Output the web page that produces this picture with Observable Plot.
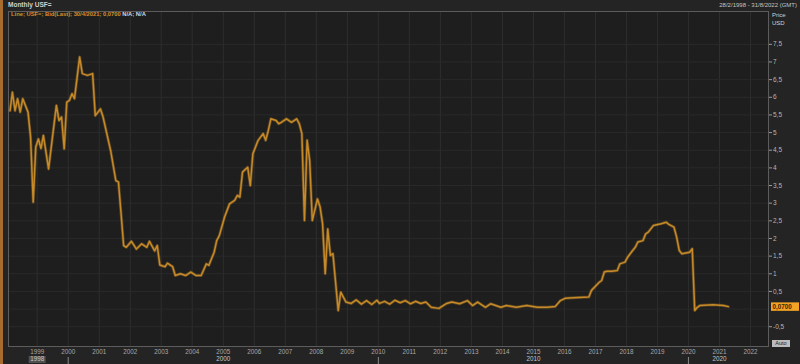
<!DOCTYPE html>
<html>
<head>
<meta charset="utf-8">
<script src="https://cdn.jsdelivr.net/npm/d3@7"></script>
<script src="https://cdn.jsdelivr.net/npm/@observablehq/plot@0.6"></script>
<style>
  html, body { margin: 0; padding: 0; background: #242424; }
  #wrap { position: relative; width: 800px; height: 364px; background: #242424; overflow: hidden; font-family: "Liberation Sans", Arial, sans-serif; }
  #chart { position: absolute; left: 0; top: 0; }
  .ov { position: absolute; white-space: nowrap; line-height: 1; }
</style>
</head>
<body>
<div id="wrap">
  <div id="chart"></div>
  <div class="ov" style="left:0;top:0;width:3px;height:364px;background:#a86c2e;"></div>
  <div class="ov" id="title" style="left:8px;top:1.5px;font-size:6.5px;font-weight:bold;color:#cfcfcf;"></div>
  <div class="ov" id="range" style="right:3px;top:1.5px;font-size:6px;color:#c4c4c4;"></div>
  <div class="ov" id="legend" style="left:11px;top:12px;font-size:5.8px;font-weight:bold;"></div>
  <div class="ov" id="unit" style="left:772px;top:12px;font-size:6px;color:#d0d0d0;line-height:1.25;"></div>
  <div class="ov" style="left:772px;top:340px;width:18px;height:7px;background:#bcbcbc;color:#222;font-size:5.5px;text-align:center;line-height:7px;">Auto</div>
</div>
<script>
// ---- data (monthly USF=, bid last) ----
const dates = [
  "1998-02","1998-03","1998-04","1998-05","1998-06","1998-07","1998-09","1998-10","1998-11","1998-12",
  "1999-01","1999-02","1999-03","1999-05","1999-08","1999-09","1999-10","1999-11","1999-12",
  "2000-01","2000-02","2000-03","2000-05","2000-06","2000-08","2000-10","2000-11",
  "2001-01","2001-02","2001-05","2001-07","2001-08","2001-09","2001-10","2001-11",
  "2002-01","2002-03","2002-05","2002-07","2002-08","2002-10","2002-11","2002-12",
  "2003-02","2003-03","2003-05","2003-06","2003-08","2003-10","2003-12",
  "2004-02","2004-04","2004-06","2004-07","2004-09","2004-10","2004-11",
  "2005-01","2005-03","2005-05","2005-06","2005-07","2005-08","2005-10","2005-11","2005-12",
  "2006-02","2006-04","2006-05","2006-06","2006-07","2006-09","2006-10","2006-11",
  "2007-01","2007-03","2007-05","2007-06","2007-07","2007-08","2007-09","2007-10","2007-11",
  "2008-01","2008-02","2008-03","2008-04","2008-05","2008-06","2008-07","2008-09","2008-10","2008-12",
  "2009-02","2009-04","2009-06","2009-08","2009-10","2009-12",
  "2010-01","2010-03","2010-05","2010-07","2010-09","2010-11",
  "2011-01","2011-03","2011-05","2011-07","2011-09","2011-12",
  "2012-03","2012-05","2012-08","2012-11",
  "2013-01","2013-03","2013-06","2013-08","2013-12",
  "2014-02","2014-06","2014-10",
  "2015-02","2015-06","2015-09","2015-11",
  "2016-01","2016-04","2016-10","2016-11",
  "2017-02","2017-03","2017-04","2017-05","2017-07","2017-09","2017-10","2017-12",
  "2018-01","2018-03","2018-04","2018-05","2018-07","2018-08","2018-09","2018-11",
  "2019-02","2019-04","2019-05","2019-07","2019-08","2019-09","2019-10",
  "2020-01","2020-02","2020-03","2020-04","2020-05","2020-10",
  "2021-02","2021-04"
];
const values = [
  5.62,6.14,5.62,5.96,5.58,5.96,5.58,4.87,3.03,4.59,
  4.82,4.55,4.92,3.97,5.77,5.34,5.44,4.54,5.86,
  5.91,6.10,5.96,7.14,6.67,6.62,6.67,5.48,
  5.67,5.44,4.49,3.64,3.60,2.70,1.80,1.75,
  1.92,1.70,1.85,1.75,1.92,1.65,1.80,1.25,
  1.20,1.30,1.20,0.95,1.00,0.95,1.05,
  0.95,0.95,1.28,1.24,1.61,1.94,2.08,
  2.60,2.98,3.08,3.22,3.17,3.88,4.02,3.50,4.40,
  4.78,4.97,4.78,5.06,5.39,5.34,5.25,5.29,
  5.39,5.29,5.39,5.25,4.97,2.51,4.78,4.21,2.51,
  3.12,2.89,2.42,1.00,2.27,1.52,1.57,-0.04,0.48,0.20,
  0.16,0.26,0.14,0.24,0.13,0.25,
  0.16,0.22,0.14,0.25,0.18,0.24,
  0.15,0.22,0.16,0.20,0.05,0.02,
  0.16,0.20,0.15,0.24,
  0.10,0.20,0.05,0.15,0.05,
  0.10,0.05,0.10,
  0.05,0.05,0.07,0.24,
  0.31,0.32,0.34,0.53,
  0.76,0.81,1.05,1.07,1.07,1.09,1.28,1.33,
  1.47,1.66,1.75,1.90,1.94,2.13,2.18,2.37,
  2.42,2.46,2.40,2.32,2.04,1.66,1.57,
  1.61,1.71,-0.04,0.05,0.10,0.12,
  0.10,0.07
];
const yearTicks = ["1999","2000","2001","2002","2003","2004","2005","2006","2007","2008","2009","2010",
  "2011","2012","2013","2014","2015","2016","2017","2018","2019","2020","2021","2022"];
const yTicks = [-0.5,0,0.5,1,1.5,2,2.5,3,3.5,4,4.5,5,5.5,6,6.5,7,7.5];
const yHiddenLabel = 0;          // covered by the last-value tag
const decadeLabels = ["1998","2000","2010","2020"];
const decadeLabelAt = ["1999","2005","2015","2021"];
const decadeMarks = ["2000","2010","2020"];
const highlightedLabelAt = ["1999"];
const lastValue = 0.07;
const lastLabel = "0,0700";
const titleText = "Monthly USF=";
const rangeText = "28/2/1998 - 31/8/2022 (GMT)";
const legendMain = "Line; USF=; Bid(Last); 30/4/2021; 0,0700";
const legendRest = "N/A; N/A";
const unitLines = ["Price", "USD"];

// ---- build ----
const parseM = d3.utcParse("%Y-%m");
const parseY = d3.utcParse("%Y");
const data = dates.map((d, i) => ({date: d3.utcDay.offset(parseM(d), 14), value: values[i]}));
const yearDates = yearTicks.map(parseY);
const lower = decadeLabels.map((t, i) => ({at: parseY(decadeLabelAt[i]), text: t}));
const comma = d => String(d).replace(".", ",");
const orange = "#c78a28";

const chart = Plot.plot({
  width: 800,
  height: 364,
  marginLeft: 8,
  marginRight: 32,
  marginTop: 11,
  marginBottom: 18,
  style: {background: "transparent", fontFamily: "Liberation Sans, Arial, sans-serif"},
  x: {type: "utc", domain: [new Date(Date.UTC(1998, 0, 28)), new Date(Date.UTC(2022, 7, 1))], axis: null},
  y: {domain: [-1.06, 8.43], axis: null},
  marks: [
    Plot.frame({fill: "#1e1e1e", stroke: null}),
    Plot.gridX(yearDates, {stroke: "#2e2e2e", strokeOpacity: 1}),
    Plot.gridY(yTicks, {stroke: "#2a2a2a", strokeOpacity: 1}),
    Plot.frame({stroke: "#5c5c5c"}),
    Plot.line(data, {x: "date", y: "value", stroke: orange, strokeOpacity: 0.35, strokeWidth: 3, strokeLinejoin: "round"}),
    Plot.line(data, {x: "date", y: "value", stroke: orange, strokeWidth: 1.5, strokeLinejoin: "round"}),
    Plot.axisX(yearDates, {tickFormat: d3.utcFormat("%Y"), tickSize: 0, tickPadding: 3, fontSize: 6.3, fill: "#a8a8a8", label: null}),
    Plot.axisX(highlightedLabelAt.map(parseY), {tickSize: 7, strokeWidth: 17, stroke: "#505050", tickFormat: () => "", dy: 10, label: null}),
    Plot.axisX(decadeMarks.map(parseY), {tickSize: 7, stroke: "#8a8a8a", tickFormat: () => "", dy: 11, label: null}),
    Plot.text(lower, {x: "at", text: "text", frameAnchor: "bottom", dy: 14.5, fontSize: 6.3, fill: "#c4c4c4"}),
    Plot.axisY(yTicks.filter(d => d !== yHiddenLabel), {anchor: "right", tickSize: 3, tickPadding: 1.5, fontSize: 6.5, fill: "#b5b5b5", stroke: "#9a9a9a", tickFormat: comma, label: null}),
    Plot.axisY([lastValue], {anchor: "right", tickSize: 28, strokeWidth: 8.5, stroke: "#f2a224", tickFormat: () => "", dx: 2, label: null}),
    Plot.text([lastValue], {y: d => d, text: () => lastLabel, frameAnchor: "right", dx: 4, textAnchor: "start", fontSize: 6.3, fontWeight: "bold", fill: "#3a2400"})
  ]
});
document.getElementById("chart").appendChild(chart);

document.getElementById("title").textContent = titleText;
document.getElementById("range").textContent = rangeText;
const lg = document.getElementById("legend");
const s1 = document.createElement("span"); s1.style.color = "#d4922c"; s1.textContent = legendMain;
const s2 = document.createElement("span"); s2.style.color = "#d8d8d8"; s2.textContent = " " + legendRest;
lg.appendChild(s1); lg.appendChild(s2);
document.getElementById("unit").innerHTML = unitLines.join("<br>");
</script>
</body>
</html>
